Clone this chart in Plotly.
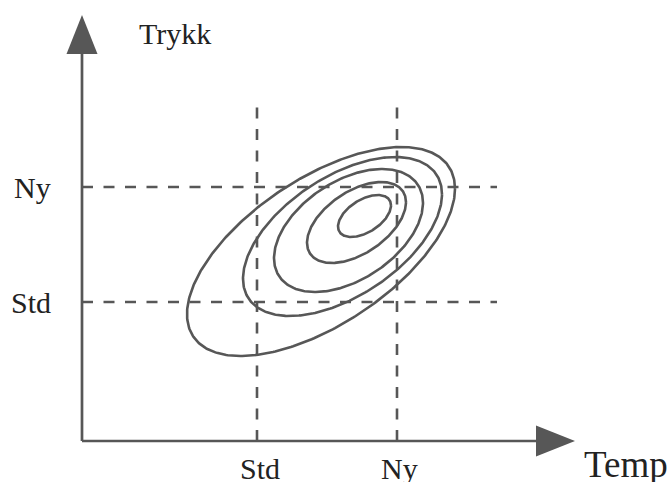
import numpy as np
import plotly.graph_objects as go

# ---- data (1 unit = 1 px in the reference; origin at axis crossing) ----
x_tick_vals = [175, 315]          # Std, Ny temperature
x_tick_text = ["Std", "Ny"]
y_tick_vals = [139, 254]          # Std, Ny pressure
y_tick_text = ["Std", "Ny"]
x_axis_title = "Temp"
y_axis_title = "Trykk"

# nested correlation ellipses: centre, half-extents, correlation
ell_cx = [239, 260.5, 266.5, 274.5, 282.5]
ell_cy = [189.5, 204.5, 210.5, 218.5, 225]
ell_sx = [134, 99.5, 74.5, 49.5, 26.5]
ell_sy = [104.5, 79.5, 61.5, 40.5, 21]
ell_rho = [0.60, 0.53, 0.45, 0.50, 0.50]

x_axis_end = 493
y_axis_end = 426
guide_top = 341
guide_right = 415

GREY = "#575757"
TXT = "#222222"
FONT = "Liberation Serif, Times New Roman, serif"

fig = go.Figure()

t = np.linspace(0, 2 * np.pi, 361)
for cx, cy, sx, sy, r in zip(ell_cx, ell_cy, ell_sx, ell_sy, ell_rho):
    xs = cx + sx * np.cos(t)
    ys = cy + sy * (r * np.cos(t) + np.sqrt(1 - r * r) * np.sin(t))
    fig.add_trace(go.Scatter(x=xs, y=ys, mode="lines",
                             line=dict(color=GREY, width=2.6),
                             hoverinfo="skip", showlegend=False))

shapes = []
dash = "11px,10.5px"
for xv in x_tick_vals:
    shapes.append(dict(type="line", x0=xv, y0=0, x1=xv, y1=guide_top,
                       line=dict(color=GREY, width=2.6, dash=dash)))
for yv in y_tick_vals:
    shapes.append(dict(type="line", x0=0, y0=yv, x1=guide_right, y1=yv,
                       line=dict(color=GREY, width=2.6, dash=dash)))

# axes with arrowheads
ah_len, ah_half = 39, 15.5
shapes.append(dict(type="line", x0=0, y0=0, x1=x_axis_end - ah_len, y1=0,
                   line=dict(color=GREY, width=2.7)))
shapes.append(dict(type="line", x0=0, y0=0, x1=0, y1=y_axis_end - ah_len,
                   line=dict(color=GREY, width=2.7)))
shapes.append(dict(type="path",
                   path=f"M {x_axis_end - ah_len},{-ah_half} L {x_axis_end},0 L {x_axis_end - ah_len},{ah_half} Z",
                   fillcolor=GREY, line=dict(width=0)))
shapes.append(dict(type="path",
                   path=f"M {-ah_half},{y_axis_end - ah_len} L 0,{y_axis_end} L {ah_half},{y_axis_end - ah_len} Z",
                   fillcolor=GREY, line=dict(width=0)))

annotations = []
for xv, tx in zip(x_tick_vals, x_tick_text):
    annotations.append(dict(x=xv + 2.5, y=-27, text=tx, showarrow=False,
                            xanchor="center", yanchor="middle",
                            font=dict(family=FONT, size=30, color=TXT)))
for yv, tx in zip(y_tick_vals, y_tick_text):
    annotations.append(dict(x=-29, y=yv, text=tx, showarrow=False,
                            xanchor="right", yanchor="middle",
                            font=dict(family=FONT, size=30, color=TXT)))
annotations.append(dict(x=544, y=-23.5, text=x_axis_title, showarrow=False,
                        xanchor="center", yanchor="middle",
                        font=dict(family=FONT, size=37, color=TXT)))
annotations.append(dict(x=92.5, y=408, text=y_axis_title, showarrow=False,
                        xanchor="center", yanchor="middle",
                        font=dict(family=FONT, size=30, color=TXT)))

fig.update_layout(
    width=670, height=482,
    margin=dict(l=0, r=0, t=0, b=0),
    paper_bgcolor="white", plot_bgcolor="white",
    xaxis=dict(range=[-82, 588], visible=False, fixedrange=True),
    yaxis=dict(range=[-41, 441], visible=False, fixedrange=True),
    shapes=shapes, annotations=annotations,
)

fig.write_html("out.html", config=dict(displayModeBar=False),
               post_script="document.body.style.margin='0';document.body.style.overflow='hidden';")
